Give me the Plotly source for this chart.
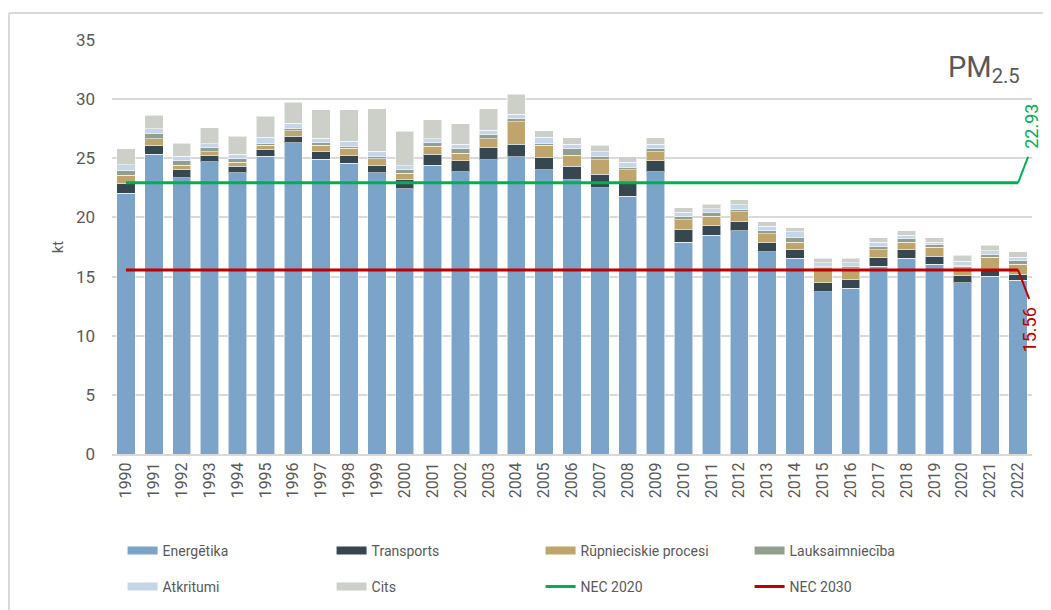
import plotly.graph_objects as go

years = list(range(1990, 2023))
year_labels = [str(y) for y in years]

energetika = [22.05, 25.35, 23.37, 24.70, 23.77, 25.19, 26.31, 24.90, 24.59, 23.77,
              22.44, 24.42, 23.86, 24.87, 25.15, 24.03, 23.18, 22.53, 21.80, 23.86,
              17.92, 18.49, 18.86, 17.10, 16.54, 13.71, 14.00, 15.86, 16.54, 16.06,
              14.47, 15.04, 14.68]
transports = [0.85, 0.74, 0.66, 0.54, 0.54, 0.53, 0.54, 0.65, 0.65, 0.65,
              0.74, 0.93, 0.93, 1.05, 1.05, 1.04, 1.13, 1.13, 1.10, 0.93,
              1.05, 0.85, 0.76, 0.74, 0.73, 0.76, 0.76, 0.77, 0.73, 0.65,
              0.66, 0.48, 0.53]
rupnieciskie = [0.67, 0.56, 0.39, 0.31, 0.34, 0.40, 0.48, 0.57, 0.59, 0.56,
                0.56, 0.68, 0.65, 0.73, 1.89, 1.05, 0.93, 1.21, 1.13, 0.76,
                0.84, 0.76, 0.85, 0.76, 0.65, 1.28, 0.93, 0.64, 0.65, 0.76,
                0.73, 1.11, 0.85]
lauksaimnieciba = [0.43, 0.45, 0.37, 0.34, 0.31, 0.17, 0.20, 0.19, 0.20, 0.17,
                   0.29, 0.28, 0.36, 0.40, 0.28, 0.17, 0.56, 0.28, 0.19, 0.25,
                   0.29, 0.28, 0.19, 0.28, 0.40, 0.08, 0.14, 0.29, 0.29, 0.28,
                   0.11, 0.27, 0.28]
atkritumi = [0.45, 0.40, 0.40, 0.36, 0.39, 0.47, 0.45, 0.40, 0.43, 0.45,
             0.33, 0.34, 0.37, 0.34, 0.37, 0.47, 0.37, 0.40, 0.43, 0.37,
             0.34, 0.34, 0.40, 0.37, 0.45, 0.34, 0.34, 0.36, 0.28, 0.17,
             0.34, 0.29, 0.29]
cits = [1.35, 1.13, 1.10, 1.33, 1.50, 1.78, 1.75, 2.39, 2.64, 3.57,
        2.94, 1.61, 1.73, 1.80, 1.67, 0.57, 0.57, 0.54, 0.50, 0.57,
        0.39, 0.40, 0.42, 0.37, 0.37, 0.37, 0.37, 0.37, 0.37, 0.37,
        0.48, 0.45, 0.45]

nec2020 = 22.93
nec2030 = 15.56

series = [
    ("Energētika", energetika, "#7BA4C8"),
    ("Transports", transports, "#37474F"),
    ("Rūpnieciskie procesi", rupnieciskie, "#BFA46B"),
    ("Lauksaimniecība", lauksaimnieciba, "#939F8E"),
    ("Atkritumi", atkritumi, "#C5D6E8"),
    ("Cits", cits, "#CCD0C9"),
]
GREEN = "#00B050"
RED = "#C00000"
TXT = "#595959"
FONT = "Roboto"

fig = go.Figure()
for name, vals, col in series:
    fig.add_trace(go.Bar(x=years, y=vals, name=name, marker_color=col,
                         marker_line=dict(color="rgba(255,255,255,0.55)", width=1),
                         showlegend=False, hoverinfo="x+y+name"))

fig.add_trace(go.Scatter(x=years, y=[nec2020] * len(years), mode="lines",
                         line=dict(color=GREEN, width=3), showlegend=False, name="NEC 2020"))
fig.add_trace(go.Scatter(x=years, y=[nec2030] * len(years), mode="lines",
                         line=dict(color=RED, width=3), showlegend=False, name="NEC 2030"))

# legend entries (two rows, via two legends)
legend_items = [(n, c, 8, "legend" if i < 4 else "legend2") for i, (n, v, c) in enumerate(series)]
legend_items += [("NEC 2020", GREEN, 3, "legend2"), ("NEC 2030", RED, 3, "legend2")]
for n, c, w, lg in legend_items:
    fig.add_trace(go.Scatter(x=[None], y=[None], mode="lines", name=n,
                             line=dict(color=c, width=w), legend=lg, hoverinfo="skip"))

# leader lines to value labels
fig.add_shape(type="line", xref="x", yref="y", x0=years[-1], y0=nec2020,
              x1=years[-1] + 0.36, y1=nec2020 + 2.2, line=dict(color=GREEN, width=2))
fig.add_shape(type="line", xref="x", yref="y", x0=years[-1], y0=nec2030,
              x1=years[-1] + 0.40, y1=nec2030 - 2.45, line=dict(color=RED, width=2))
fig.add_annotation(x=years[-1] + 0.47, y=nec2020 + 4.75, xref="x", yref="y",
                   text=f"{nec2020:.2f}", textangle=-90, showarrow=False,
                   font=dict(family=FONT, size=18, color=GREEN))
fig.add_annotation(x=years[-1] + 0.42, y=nec2030 - 5.05, xref="x", yref="y",
                   text=f"{nec2030:.2f}", textangle=-90, showarrow=False,
                   font=dict(family=FONT, size=18, color=RED))

fig.add_annotation(x=0.989, y=0.93, xref="paper", yref="paper", xanchor="right",
                   yanchor="middle", text="PM<sub>2.5</sub>", showarrow=False,
                   font=dict(family=FONT, size=29, color=TXT))

# outer frame lines (left and top)
fig.add_shape(type="line", xref="paper", yref="paper", x0=-0.112, x1=1.05, y0=1.0652, y1=1.0652,
              line=dict(color="#D9D9D9", width=2))
fig.add_shape(type="line", xref="paper", yref="paper", x0=-0.112, x1=-0.112, y0=1.0652, y1=-0.4,
              line=dict(color="#D9D9D9", width=2))

legend_common = dict(orientation="h", xanchor="left", yanchor="middle", traceorder="normal",
                     font=dict(family=FONT, size=14, color=TXT),
                     entrywidth=164, entrywidthmode="pixels", bgcolor="rgba(0,0,0,0)",
                     itemclick=False, itemdoubleclick=False)

# page body has an 8px margin: size the figure so the plot lands where the reference has it
fig.update_layout(
    width=1043, height=602,
    margin=dict(l=104, r=19, t=32, b=156, autoexpand=False),
    paper_bgcolor="white", plot_bgcolor="white",
    barmode="stack", bargap=0.34,
    font=dict(family=FONT, color=TXT),
    xaxis=dict(range=[years[0] - 0.5, years[-1] + 0.5], tickvals=years, ticktext=year_labels,
               tickangle=-90, tickfont=dict(family=FONT, size=16, color=TXT),
               showgrid=False, showline=True, linecolor="#D9D9D9", linewidth=2,
               ticks="", zeroline=False, fixedrange=True, automargin=False),
    yaxis=dict(range=[0, 35], dtick=5, tickfont=dict(family=FONT, size=17, color=TXT),
               showgrid=True, gridcolor="#D9D9D9", gridwidth=1.5, zeroline=False,
               ticklabelstandoff=16, automargin=False,
               title=dict(text="kt", font=dict(family=FONT, size=15, color=TXT), standoff=8),
               fixedrange=True),
    legend=dict(x=0.0115, y=-0.2343, **legend_common),
    legend2=dict(x=0.0115, y=-0.3213, **legend_common),
)

fig.write_html("out.html")
